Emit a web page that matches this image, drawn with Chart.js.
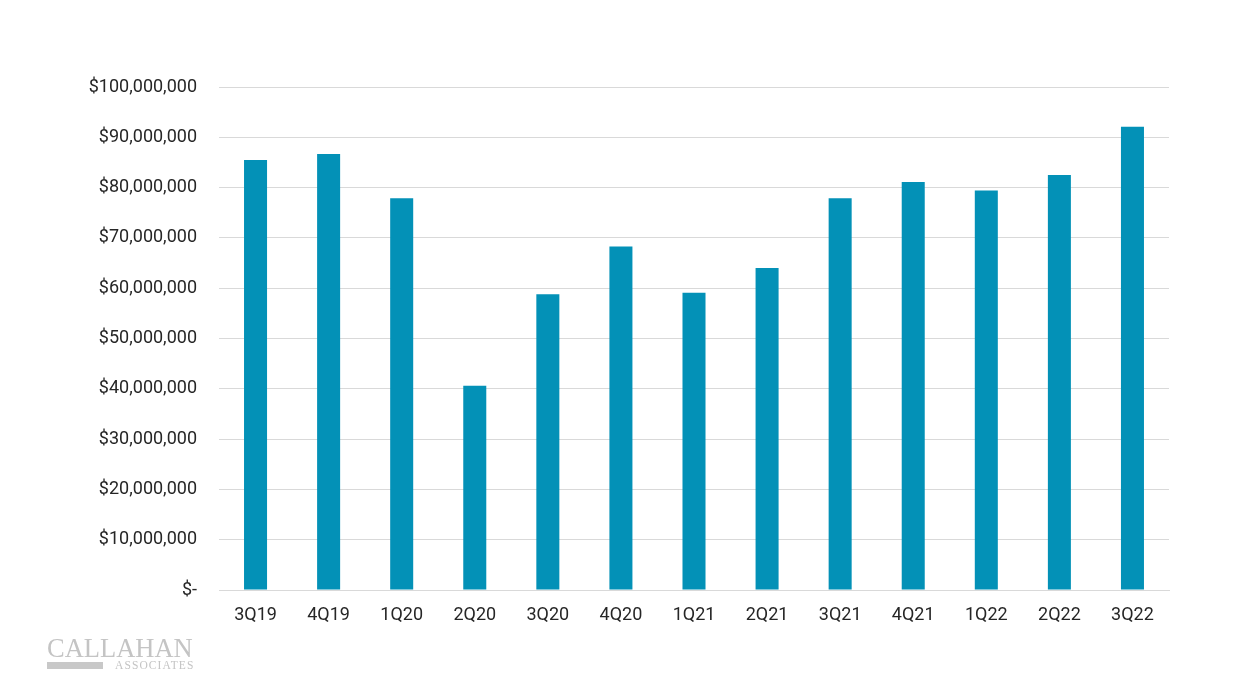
<!DOCTYPE html>
<html>
<head>
<meta charset="utf-8">
<script src="https://cdn.jsdelivr.net/npm/chart.js@4"></script>
<style>
    html, body { margin: 0; padding: 0; background: #fff; }
    #wrap { position: relative; width: 1244px; height: 686px; }
    #logo { position: absolute; left: 47px; top: 636px; color: #c4c4c4; font-family: 'Liberation Serif', 'DejaVu Serif', serif; }
    #logo .name { font-size: 26.5px; line-height: 24px; }
    #logo .sub { display: flex; align-items: center; margin-top: 0px; }
    #logo .bar { width: 56px; height: 7px; background: #c8c8c8; margin-right: 12px; }
    #logo .assoc { font-size: 11.5px; letter-spacing: 1.1px; line-height: 11px; }
</style>
</head>
<body>
<div id="wrap">
    <canvas id="revenueChart" width="1244" height="686"></canvas>
    <div id="logo">
        <div class="name">CALLAHAN</div>
        <div class="sub"><div class="bar"></div><div class="assoc">ASSOCIATES</div></div>
    </div>
</div>
<script>
const quarters = ['3Q19', '4Q19', '1Q20', '2Q20', '3Q20', '4Q20', '1Q21', '2Q21', '3Q21', '4Q21', '1Q22', '2Q22', '3Q22'];
const amounts = [85500000, 86700000, 77900000, 40600000, 58800000, 68300000, 59100000, 64000000, 77900000, 81100000, 79400000, 82500000, 92100000];
const yTicks = [0, 10000000, 20000000, 30000000, 40000000, 50000000, 60000000, 70000000, 80000000, 90000000, 100000000];

const fmtDollar = (v) => v === 0 ? '$-' : '$' + v.toLocaleString('en-US');

new Chart(document.getElementById('revenueChart').getContext('2d'), {
    type: 'bar',
    data: {
        labels: quarters,
        datasets: [{
            data: amounts,
            backgroundColor: '#0391b7',
            categoryPercentage: 1,
            barPercentage: 0.315
        }]
    },
    options: {
        responsive: false,
        animation: false,
        layout: { padding: { top: 87, right: 75, bottom: 46, left: 0 } },
        plugins: {
            legend: { display: false },
            tooltip: { enabled: false }
        },
        scales: {
            y: {
                min: 0,
                max: 100000000,
                afterBuildTicks: (axis) => { axis.ticks = yTicks.map(v => ({ value: v })); },
                afterFit: (axis) => { axis.width = 219; },
                grid: { color: '#d9d9d9', lineWidth: 1, drawTicks: false },
                border: { display: false },
                ticks: {
                    padding: 22,
                    color: '#262626',
                    font: { family: 'Roboto', size: 18 },
                    callback: (v) => fmtDollar(v)
                }
            },
            x: {
                afterFit: (axis) => { axis.height = 50; },
                grid: { display: false },
                border: { display: true, color: '#d9d9d9' },
                ticks: {
                    padding: 7,
                    color: '#262626',
                    font: { family: 'Roboto', size: 18 }
                }
            }
        }
    }
});
</script>
</body>
</html>
